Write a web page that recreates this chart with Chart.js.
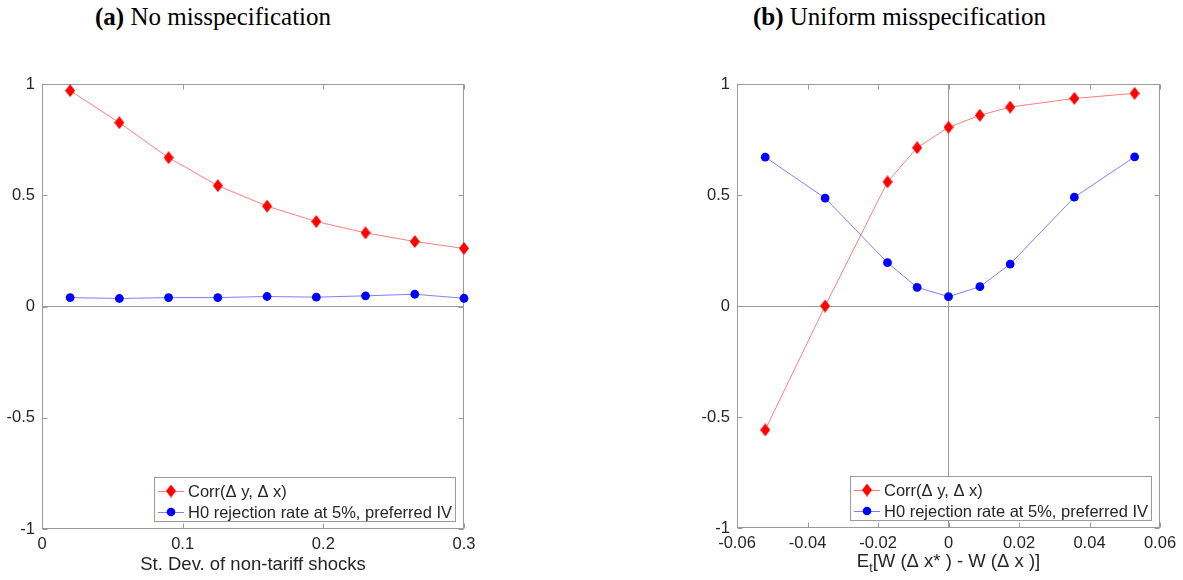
<!DOCTYPE html>
<html><head><meta charset="utf-8">
<script src="https://cdn.jsdelivr.net/npm/chart.js@4.4.1/dist/chart.umd.min.js"></script>
<style>
html,body{margin:0;padding:0;background:#fff;width:1183px;height:580px;overflow:hidden;}
.title{position:absolute;top:2px;font-family:"Liberation Serif","Times New Roman",serif;font-size:25px;color:#000;white-space:nowrap;line-height:30px;}
.box{position:absolute;top:60px;height:520px;}
</style></head><body>
<div class="title" style="left:95px"><b>(a)</b> No misspecification</div>
<div class="title" style="left:753px"><b>(b)</b> Uniform misspecification</div>
<div class="box" style="left:0;width:490px"><canvas id="ca"></canvas></div>
<div class="box" style="left:690px;width:493px"><canvas id="cb"></canvas></div>
<script>
// ---- data ----
const xA = [0.02, 0.055, 0.09, 0.125, 0.16, 0.195, 0.23, 0.265, 0.3];
const corrA = [0.970, 0.826, 0.669, 0.543, 0.451, 0.382, 0.331, 0.292, 0.261];
const rejA = [0.040, 0.036, 0.040, 0.040, 0.045, 0.042, 0.048, 0.055, 0.037];

const xB = [-0.052, -0.035, -0.0173, -0.0089, 0, 0.0089, 0.0175, 0.0357, 0.0528];
const corrB = [-0.558, 0.000, 0.559, 0.713, 0.805, 0.859, 0.896, 0.935, 0.958];
const rejB = [0.671, 0.486, 0.195, 0.084, 0.042, 0.087, 0.189, 0.490, 0.672];

const xTicksA = [0, 0.1, 0.2, 0.3];
const xLabelsA = ['0', '0.1', '0.2', '0.3'];
const xTicksB = [-0.06, -0.04, -0.02, 0, 0.02, 0.04, 0.06];
const xLabelsB = ['-0.06', '-0.04', '-0.02', '0', '0.02', '0.04', '0.06'];
const yTicks = [-1, -0.5, 0, 0.5, 1];
const yLabels = ['-1', '-0.5', '0', '0.5', '1'];

const seriesNames = ['Corr(\u0394 y, \u0394 x)', 'H0 rejection rate at 5%, preferred IV'];
const xTitleA = [['St. Dev. of non-tariff shocks', 'n']];
const xTitleB = [['E', 'n'], ['t', 'sub'], ['[W (\u0394 x* ) - W (\u0394 x )]', 'n']];

// ---- styles ----
const SANS = '"Liberation Sans", Arial, Helvetica, sans-serif';
const TEXT = '#262626';
const AXIS = '#9a9a9a';
const RED = '#ff0000', RED_LINE = 'rgba(255,0,0,0.5)';
const BLUE = '#0000ff', BLUE_LINE = 'rgba(0,0,255,0.5)';

function diamond(w, h, color) {
  const c = document.createElement('canvas');
  c.width = w; c.height = h;
  const g = c.getContext('2d');
  g.fillStyle = color;
  g.beginPath();
  g.moveTo(w / 2, 0); g.lineTo(w, h / 2); g.lineTo(w / 2, h); g.lineTo(0, h / 2);
  g.closePath(); g.fill();
  return c;
}
const DIAM = diamond(10, 13, RED);

const boxPlugin = {
  id: 'boxPlugin',
  beforeDatasetsDraw(chart) {
    const a = chart.chartArea, ctx = chart.ctx;
    ctx.save();
    ctx.strokeStyle = AXIS; ctx.lineWidth = 1;
    const L = Math.round(a.left) + 0.5, R = Math.round(a.right) - 0.5;
    const T = Math.round(a.top) + 0.5, B = Math.round(a.bottom) - 0.5;
    ctx.strokeRect(L, T, R - L, B - T);
    const tl = 5;
    ctx.beginPath();
    chart.scales.x.ticks.forEach(t => {
      const px = Math.round(chart.scales.x.getPixelForValue(t.value)) + 0.5;
      ctx.moveTo(px, B); ctx.lineTo(px, B - tl);
      ctx.moveTo(px, T); ctx.lineTo(px, T + tl);
    });
    chart.scales.y.ticks.forEach(t => {
      const py = Math.round(chart.scales.y.getPixelForValue(t.value)) + 0.5;
      ctx.moveTo(L, py); ctx.lineTo(L + tl, py);
      ctx.moveTo(R, py); ctx.lineTo(R - tl, py);
    });
    ctx.stroke();
    ctx.restore();
  }
};

const legendPlugin = {
  id: 'legendPlugin',
  afterDraw(chart) {
    const a = chart.chartArea, ctx = chart.ctx;
    ctx.save();
    ctx.font = '16.5px ' + SANS;
    const tw = Math.max(...seriesNames.map(t => ctx.measureText(t).width));
    const w = Math.round(34 + tw + 4), h = 45;
    const right = Math.round(a.right) - 8, bottom = Math.round(a.bottom) - 7;
    const left = right - w, top = bottom - h;
    ctx.fillStyle = '#fff';
    ctx.fillRect(left, top, w, h);
    ctx.strokeStyle = AXIS; ctx.lineWidth = 1;
    ctx.strokeRect(left + 0.5, top + 0.5, w - 1, h - 1);
    const rows = [top + 14, top + 35];
    chart.data.datasets.forEach((ds, i) => {
      const y = rows[i];
      ctx.strokeStyle = ds.borderColor; ctx.lineWidth = 1;
      ctx.beginPath(); ctx.moveTo(left + 4, y + 0.5); ctx.lineTo(left + 30, y + 0.5); ctx.stroke();
      if (ds.pointStyle === DIAM) {
        ctx.drawImage(DIAM, left + 17 - 5, y - 6.5);
      } else {
        ctx.fillStyle = ds.pointBackgroundColor;
        ctx.beginPath(); ctx.arc(left + 17, y, 4.3, 0, Math.PI * 2); ctx.fill();
      }
      ctx.fillStyle = TEXT;
      ctx.textBaseline = 'middle'; ctx.textAlign = 'left';
      ctx.fillText(seriesNames[i], left + 34, y + 1);
    });
    ctx.restore();
  }
};

const titlePlugin = {
  id: 'titlePlugin',
  afterDraw(chart) {
    const opt = chart.options.plugins.titlePlugin;
    const segs = opt.segs, ctx = chart.ctx, a = chart.chartArea;
    ctx.save();
    const fN = '18.5px ' + SANS, fS = '12.5px ' + SANS;
    let total = 0;
    segs.forEach(s => { ctx.font = s[1] === 'sub' ? fS : fN; total += ctx.measureText(s[0]).width; });
    let x = (a.left + a.right) / 2 - total / 2;
    ctx.fillStyle = TEXT; ctx.textBaseline = 'alphabetic'; ctx.textAlign = 'left';
    segs.forEach(s => {
      ctx.font = s[1] === 'sub' ? fS : fN;
      ctx.fillText(s[0], x, opt.baseline + (s[1] === 'sub' ? 5 : 0));
      x += ctx.measureText(s[0]).width;
    });
    ctx.restore();
  }
};

function makeChart(id, xs, corr, rej, xMin, xMax, xTicks, xLabels, segs, yW, padR, plotBottom, titleBaseline) {
  const top = 24;
  const plotH = plotBottom - 60 - top;
  const xH = 520 - top - plotH;
  const zeroGrid = ctx => (ctx.tick && ctx.tick.value === 0) ? AXIS : 'rgba(0,0,0,0)';
  return new Chart(document.getElementById(id), {
    type: 'scatter',
    data: {
      datasets: [
        { label: seriesNames[0], data: xs.map((x, i) => ({ x: x, y: corr[i] })), showLine: true,
          borderColor: RED_LINE, borderWidth: 1, pointStyle: DIAM, pointBackgroundColor: RED,
          pointBorderColor: RED, pointRadius: 6, clip: false },
        { label: seriesNames[1], data: xs.map((x, i) => ({ x: x, y: rej[i] })), showLine: true,
          borderColor: BLUE_LINE, borderWidth: 1, pointStyle: 'circle', pointBackgroundColor: BLUE,
          pointBorderColor: BLUE, pointBorderWidth: 0, pointRadius: 4.4, clip: false }
      ]
    },
    options: {
      responsive: true, maintainAspectRatio: false, animation: false,
      layout: { padding: { top: top, right: padR, left: 0, bottom: 0 } },
      plugins: { legend: { display: false }, tooltip: { enabled: false },
        titlePlugin: { segs: segs, baseline: titleBaseline } },
      scales: {
        x: { type: 'linear', min: xMin, max: xMax,
          afterBuildTicks: s => { s.ticks = xTicks.map(v => ({ value: v })); },
          afterFit: s => { s.height = xH; },
          ticks: { callback: (v, i) => xLabels[i], font: { size: 16.5, family: SANS }, color: TEXT,
                   padding: 6, maxRotation: 0, autoSkip: false },
          grid: { color: zeroGrid, drawTicks: false, lineWidth: 1 },
          border: { display: false } },
        y: { type: 'linear', min: -1, max: 1,
          afterBuildTicks: s => { s.ticks = yTicks.map(v => ({ value: v })); },
          afterFit: s => { s.width = yW; },
          ticks: { callback: (v, i) => yLabels[i], font: { size: 16.5, family: SANS }, color: TEXT,
                   padding: 7, autoSkip: false },
          grid: { color: zeroGrid, drawTicks: false, lineWidth: 1 },
          border: { display: false } }
      }
    },
    plugins: [boxPlugin, legendPlugin, titlePlugin]
  });
}

makeChart('ca', xA, corrA, rejA, 0, 0.3, xTicksA, xLabelsA, xTitleA, 42, 26, 529, 510);
makeChart('cb', xB, corrB, rejB, -0.06, 0.06, xTicksB, xLabelsB, xTitleB, 47, 23, 528, 507);
</script>
</body></html>
